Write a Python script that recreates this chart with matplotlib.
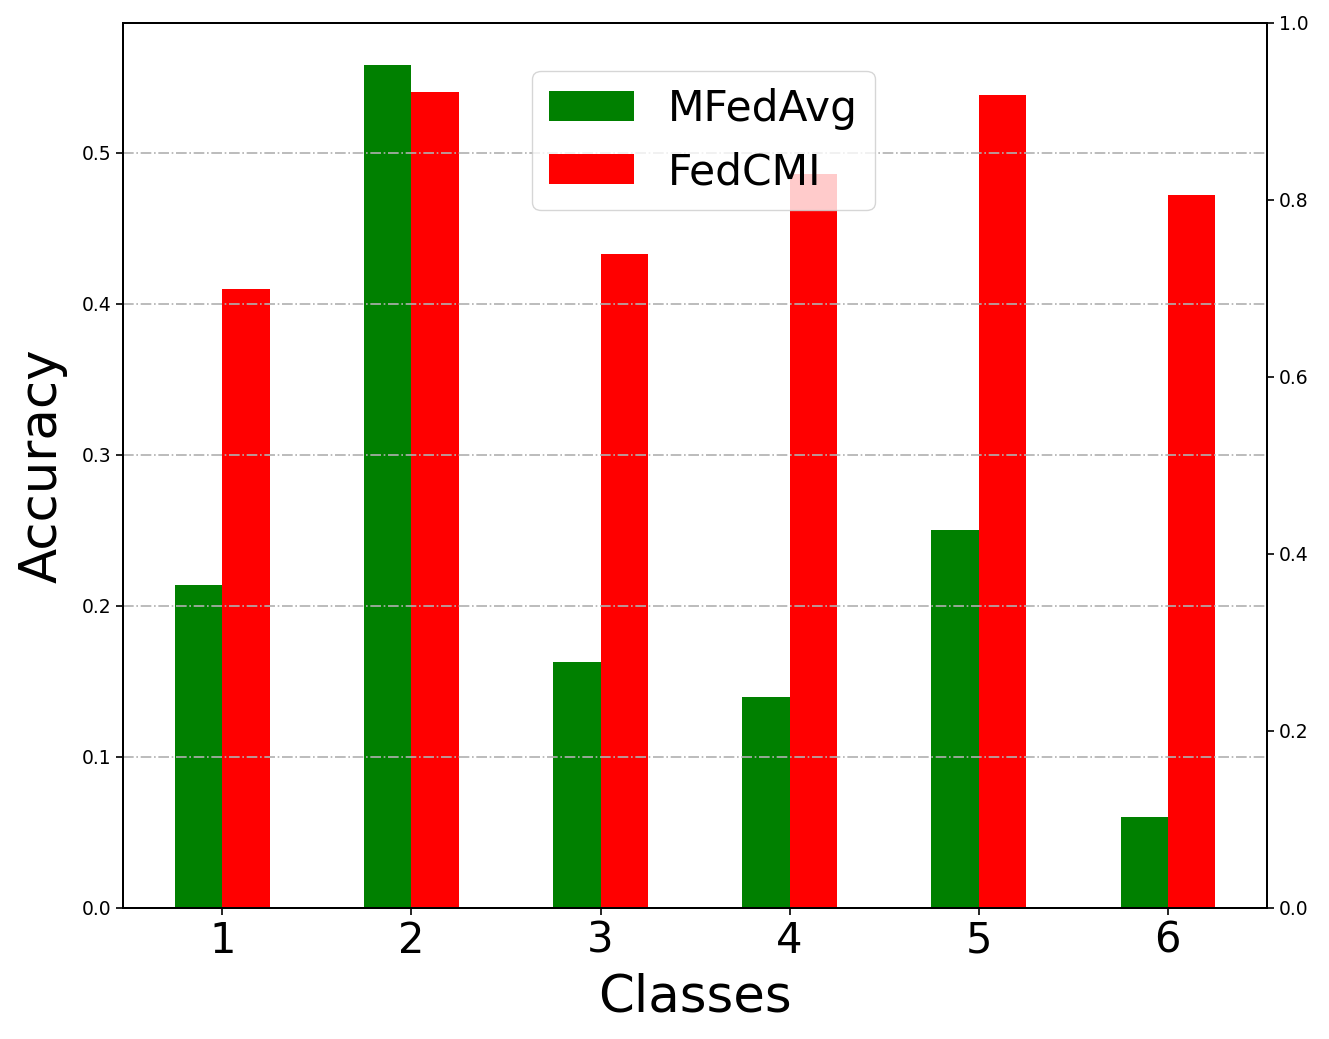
import numpy as np
import matplotlib
matplotlib.use('Agg')
import matplotlib.pyplot as plt

classes = [1, 2, 3, 4, 5, 6]
mfedavg = [0.214, 0.558, 0.163, 0.140, 0.250, 0.060]
fedcmi = [0.410, 0.540, 0.433, 0.486, 0.538, 0.472]

x = np.array(classes)
w = 0.25

fig = plt.figure(figsize=(13.29, 10.39), dpi=100)
ax = fig.add_axes([0.0926, 0.1261, 0.8608, 0.8518])
ax.bar(x - w/2, mfedavg, width=w, color='green', label='MFedAvg')
ax.bar(x + w/2, fedcmi, width=w, color='red', label='FedCMI')
ax.grid(axis='y', linestyle='-.', color='#b0b0b0', linewidth=1.2)
ax.set_xticks(x)
ax.tick_params(axis='x', labelsize=30, length=5, width=1.2)
ax.tick_params(axis='y', labelsize=13.5, length=5, width=1.2)
ax.set_xlabel('Classes', fontsize=37, labelpad=8)
ax.set_ylabel('Accuracy', fontsize=37, labelpad=10)
for s in ax.spines.values():
    s.set_linewidth(1.4)

ax2 = ax.twinx()
ax2.tick_params(axis='y', labelsize=13.5, length=5, width=1.2)
for s in ax2.spines.values():
    s.set_linewidth(1.4)

leg = ax2.legend(*ax.get_legend_handles_labels(), loc='upper left',
                 bbox_to_anchor=(0.3575, 0.9458), borderaxespad=0,
                 fontsize=30.5, framealpha=0.8)

fig.savefig('out.png', dpi=100)
